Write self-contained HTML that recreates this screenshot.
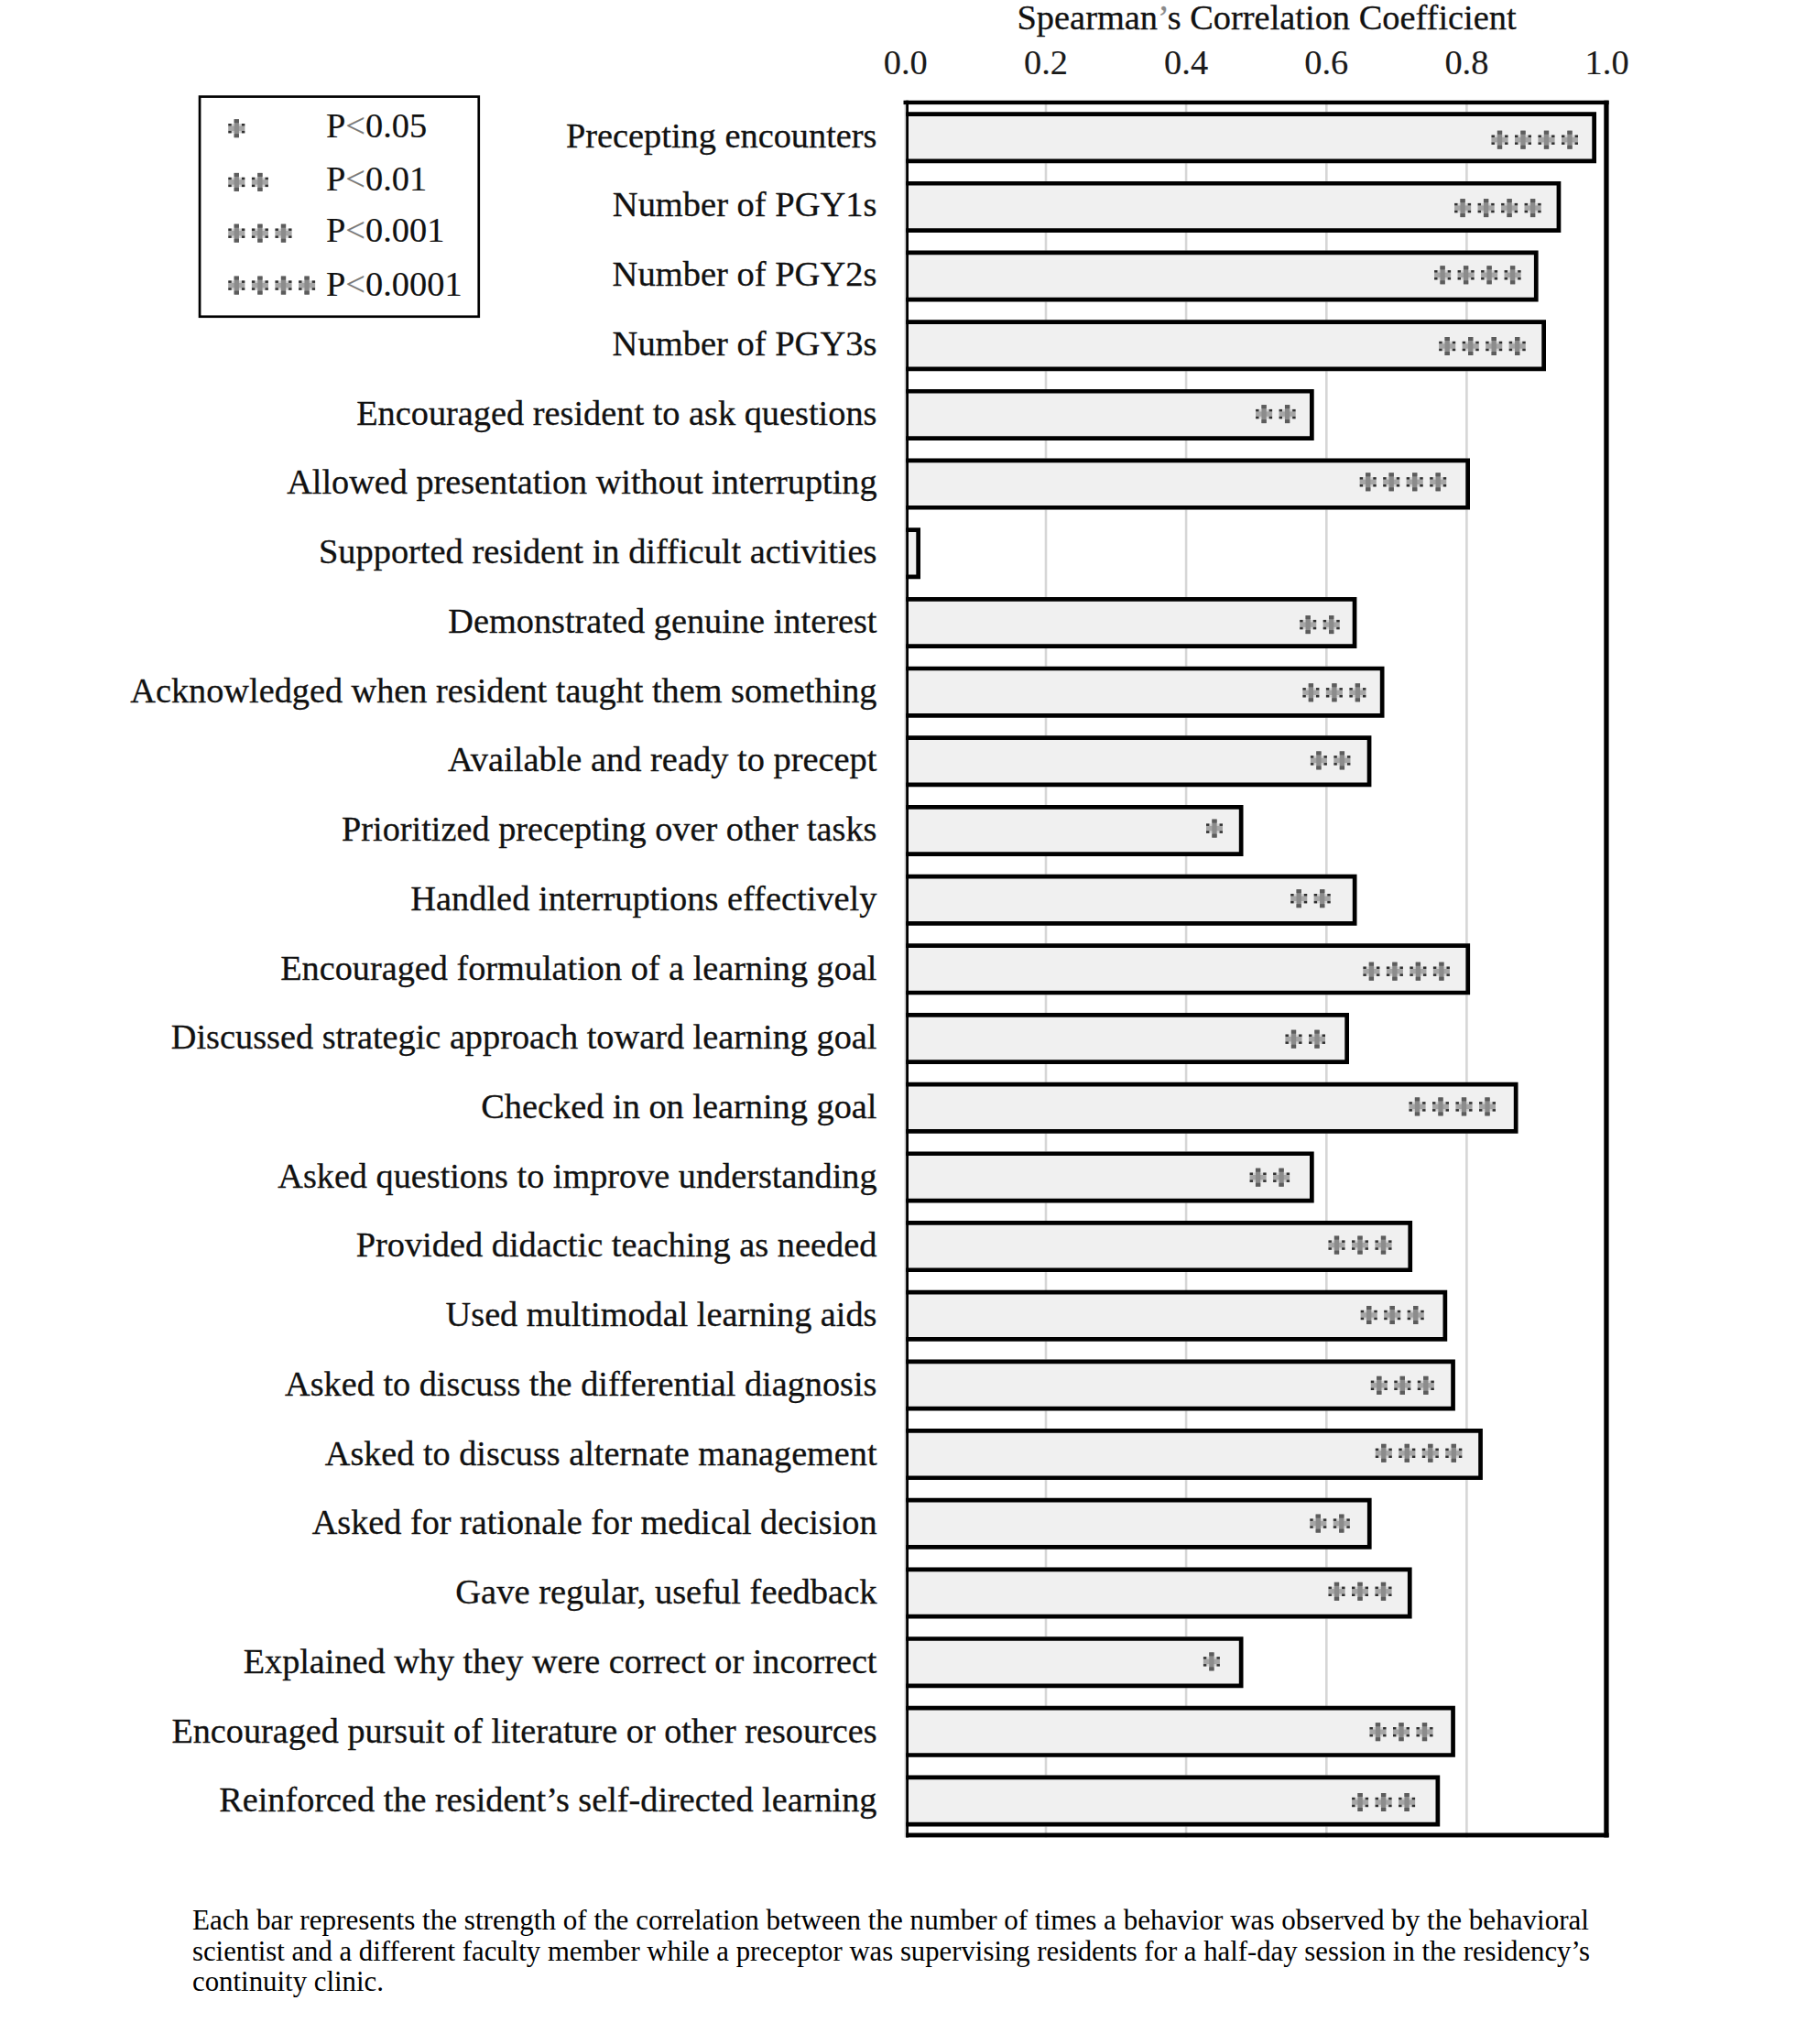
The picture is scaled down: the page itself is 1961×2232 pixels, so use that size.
<!DOCTYPE html>
<html><head><meta charset="utf-8"><style>
html,body{margin:0;padding:0;background:#fff;}
svg{display:block;}
text{font-family:"Liberation Serif",serif;}
</style></head><body>
<svg width="1961" height="2232" viewBox="0 0 1961 2232">
<rect width="1961" height="2232" fill="#fff"/>

<rect x="987.5" y="109.7" width="2.6" height="1896.7" fill="#d6d6d6"/>
<rect x="1140.7" y="109.7" width="2.6" height="1896.7" fill="#d6d6d6"/>
<rect x="1293.8" y="109.7" width="2.6" height="1896.7" fill="#d6d6d6"/>
<rect x="1447.0" y="109.7" width="2.6" height="1896.7" fill="#d6d6d6"/>
<rect x="1600.1" y="109.7" width="2.6" height="1896.7" fill="#d6d6d6"/>
<text x="1110.5" y="32" font-size="38.4" fill="#111" stroke="#111" stroke-width="0.3">Spearman<tspan fill="#8a8a8a" stroke="#8a8a8a">’</tspan>s Correlation Coefficient</text>
<text x="988.8" y="81" font-size="38.4" text-anchor="middle" fill="#1a1a1a" stroke="#1a1a1a" stroke-width="0.15">0.0</text>
<text x="1142.0" y="81" font-size="38.4" text-anchor="middle" fill="#1a1a1a" stroke="#1a1a1a" stroke-width="0.15">0.2</text>
<text x="1295.1" y="81" font-size="38.4" text-anchor="middle" fill="#1a1a1a" stroke="#1a1a1a" stroke-width="0.15">0.4</text>
<text x="1448.3" y="81" font-size="38.4" text-anchor="middle" fill="#1a1a1a" stroke="#1a1a1a" stroke-width="0.15">0.6</text>
<text x="1601.4" y="81" font-size="38.4" text-anchor="middle" fill="#1a1a1a" stroke="#1a1a1a" stroke-width="0.15">0.8</text>
<text x="1754.6" y="81" font-size="38.4" text-anchor="middle" fill="#1a1a1a" stroke="#1a1a1a" stroke-width="0.15">1.0</text>
<rect x="989.20" y="122.20" width="753.80" height="56.00" fill="#f0f0f0"/>
<path d="M989.20 122.20H1743.00V178.20H989.20V173.50H1738.30V126.90H989.20Z" fill="#000"/>
<g transform="translate(1637.5 152.7)"><rect x="-9" y="-5.2" width="18" height="10.4" fill="#d2d2d2"/><rect x="-9" y="-2.7" width="18" height="5.4" fill="#a6a6a6"/><rect x="-9" y="-5.2" width="3.4" height="2.5" fill="#303030"/><rect x="5.6" y="-5.2" width="3.4" height="2.5" fill="#303030"/><rect x="-9" y="2.7" width="3.4" height="2.5" fill="#303030"/><rect x="5.6" y="2.7" width="3.4" height="2.5" fill="#303030"/><rect x="-2.65" y="-10" width="5.3" height="20" fill="#8c8c8c"/><rect x="-2.65" y="-10" width="5.3" height="4" fill="#5c5c5c"/><rect x="-2.65" y="6" width="5.3" height="4" fill="#5c5c5c"/></g>
<g transform="translate(1663.0 152.7)"><rect x="-9" y="-5.2" width="18" height="10.4" fill="#d2d2d2"/><rect x="-9" y="-2.7" width="18" height="5.4" fill="#a6a6a6"/><rect x="-9" y="-5.2" width="3.4" height="2.5" fill="#303030"/><rect x="5.6" y="-5.2" width="3.4" height="2.5" fill="#303030"/><rect x="-9" y="2.7" width="3.4" height="2.5" fill="#303030"/><rect x="5.6" y="2.7" width="3.4" height="2.5" fill="#303030"/><rect x="-2.65" y="-10" width="5.3" height="20" fill="#8c8c8c"/><rect x="-2.65" y="-10" width="5.3" height="4" fill="#5c5c5c"/><rect x="-2.65" y="6" width="5.3" height="4" fill="#5c5c5c"/></g>
<g transform="translate(1688.5 152.7)"><rect x="-9" y="-5.2" width="18" height="10.4" fill="#d2d2d2"/><rect x="-9" y="-2.7" width="18" height="5.4" fill="#a6a6a6"/><rect x="-9" y="-5.2" width="3.4" height="2.5" fill="#303030"/><rect x="5.6" y="-5.2" width="3.4" height="2.5" fill="#303030"/><rect x="-9" y="2.7" width="3.4" height="2.5" fill="#303030"/><rect x="5.6" y="2.7" width="3.4" height="2.5" fill="#303030"/><rect x="-2.65" y="-10" width="5.3" height="20" fill="#8c8c8c"/><rect x="-2.65" y="-10" width="5.3" height="4" fill="#5c5c5c"/><rect x="-2.65" y="6" width="5.3" height="4" fill="#5c5c5c"/></g>
<g transform="translate(1714.0 152.7)"><rect x="-9" y="-5.2" width="18" height="10.4" fill="#d2d2d2"/><rect x="-9" y="-2.7" width="18" height="5.4" fill="#a6a6a6"/><rect x="-9" y="-5.2" width="3.4" height="2.5" fill="#303030"/><rect x="5.6" y="-5.2" width="3.4" height="2.5" fill="#303030"/><rect x="-9" y="2.7" width="3.4" height="2.5" fill="#303030"/><rect x="5.6" y="2.7" width="3.4" height="2.5" fill="#303030"/><rect x="-2.65" y="-10" width="5.3" height="20" fill="#8c8c8c"/><rect x="-2.65" y="-10" width="5.3" height="4" fill="#5c5c5c"/><rect x="-2.65" y="6" width="5.3" height="4" fill="#5c5c5c"/></g>
<text transform="translate(957.5 160.7) scale(0.9985 1)" x="0" y="0" font-size="38.4" text-anchor="end" fill="#111" stroke="#111" stroke-width="0.3">Precepting encounters</text>
<rect x="989.20" y="197.88" width="715.10" height="56.00" fill="#f0f0f0"/>
<path d="M989.20 197.88H1704.30V253.88H989.20V249.18H1699.60V202.58H989.20Z" fill="#000"/>
<g transform="translate(1597.1 227.1)"><rect x="-9" y="-5.2" width="18" height="10.4" fill="#d2d2d2"/><rect x="-9" y="-2.7" width="18" height="5.4" fill="#a6a6a6"/><rect x="-9" y="-5.2" width="3.4" height="2.5" fill="#303030"/><rect x="5.6" y="-5.2" width="3.4" height="2.5" fill="#303030"/><rect x="-9" y="2.7" width="3.4" height="2.5" fill="#303030"/><rect x="5.6" y="2.7" width="3.4" height="2.5" fill="#303030"/><rect x="-2.65" y="-10" width="5.3" height="20" fill="#8c8c8c"/><rect x="-2.65" y="-10" width="5.3" height="4" fill="#5c5c5c"/><rect x="-2.65" y="6" width="5.3" height="4" fill="#5c5c5c"/></g>
<g transform="translate(1622.6 227.1)"><rect x="-9" y="-5.2" width="18" height="10.4" fill="#d2d2d2"/><rect x="-9" y="-2.7" width="18" height="5.4" fill="#a6a6a6"/><rect x="-9" y="-5.2" width="3.4" height="2.5" fill="#303030"/><rect x="5.6" y="-5.2" width="3.4" height="2.5" fill="#303030"/><rect x="-9" y="2.7" width="3.4" height="2.5" fill="#303030"/><rect x="5.6" y="2.7" width="3.4" height="2.5" fill="#303030"/><rect x="-2.65" y="-10" width="5.3" height="20" fill="#8c8c8c"/><rect x="-2.65" y="-10" width="5.3" height="4" fill="#5c5c5c"/><rect x="-2.65" y="6" width="5.3" height="4" fill="#5c5c5c"/></g>
<g transform="translate(1648.1 227.1)"><rect x="-9" y="-5.2" width="18" height="10.4" fill="#d2d2d2"/><rect x="-9" y="-2.7" width="18" height="5.4" fill="#a6a6a6"/><rect x="-9" y="-5.2" width="3.4" height="2.5" fill="#303030"/><rect x="5.6" y="-5.2" width="3.4" height="2.5" fill="#303030"/><rect x="-9" y="2.7" width="3.4" height="2.5" fill="#303030"/><rect x="5.6" y="2.7" width="3.4" height="2.5" fill="#303030"/><rect x="-2.65" y="-10" width="5.3" height="20" fill="#8c8c8c"/><rect x="-2.65" y="-10" width="5.3" height="4" fill="#5c5c5c"/><rect x="-2.65" y="6" width="5.3" height="4" fill="#5c5c5c"/></g>
<g transform="translate(1673.6 227.1)"><rect x="-9" y="-5.2" width="18" height="10.4" fill="#d2d2d2"/><rect x="-9" y="-2.7" width="18" height="5.4" fill="#a6a6a6"/><rect x="-9" y="-5.2" width="3.4" height="2.5" fill="#303030"/><rect x="5.6" y="-5.2" width="3.4" height="2.5" fill="#303030"/><rect x="-9" y="2.7" width="3.4" height="2.5" fill="#303030"/><rect x="5.6" y="2.7" width="3.4" height="2.5" fill="#303030"/><rect x="-2.65" y="-10" width="5.3" height="20" fill="#8c8c8c"/><rect x="-2.65" y="-10" width="5.3" height="4" fill="#5c5c5c"/><rect x="-2.65" y="6" width="5.3" height="4" fill="#5c5c5c"/></g>
<text transform="translate(957.5 236.4) scale(1.0028 1)" x="0" y="0" font-size="38.4" text-anchor="end" fill="#111" stroke="#111" stroke-width="0.3">Number of PGY1s</text>
<rect x="989.20" y="273.56" width="690.40" height="56.00" fill="#f0f0f0"/>
<path d="M989.20 273.56H1679.60V329.56H989.20V324.86H1674.90V278.26H989.20Z" fill="#000"/>
<g transform="translate(1575.1 300.3)"><rect x="-9" y="-5.2" width="18" height="10.4" fill="#d2d2d2"/><rect x="-9" y="-2.7" width="18" height="5.4" fill="#a6a6a6"/><rect x="-9" y="-5.2" width="3.4" height="2.5" fill="#303030"/><rect x="5.6" y="-5.2" width="3.4" height="2.5" fill="#303030"/><rect x="-9" y="2.7" width="3.4" height="2.5" fill="#303030"/><rect x="5.6" y="2.7" width="3.4" height="2.5" fill="#303030"/><rect x="-2.65" y="-10" width="5.3" height="20" fill="#8c8c8c"/><rect x="-2.65" y="-10" width="5.3" height="4" fill="#5c5c5c"/><rect x="-2.65" y="6" width="5.3" height="4" fill="#5c5c5c"/></g>
<g transform="translate(1600.6 300.3)"><rect x="-9" y="-5.2" width="18" height="10.4" fill="#d2d2d2"/><rect x="-9" y="-2.7" width="18" height="5.4" fill="#a6a6a6"/><rect x="-9" y="-5.2" width="3.4" height="2.5" fill="#303030"/><rect x="5.6" y="-5.2" width="3.4" height="2.5" fill="#303030"/><rect x="-9" y="2.7" width="3.4" height="2.5" fill="#303030"/><rect x="5.6" y="2.7" width="3.4" height="2.5" fill="#303030"/><rect x="-2.65" y="-10" width="5.3" height="20" fill="#8c8c8c"/><rect x="-2.65" y="-10" width="5.3" height="4" fill="#5c5c5c"/><rect x="-2.65" y="6" width="5.3" height="4" fill="#5c5c5c"/></g>
<g transform="translate(1626.1 300.3)"><rect x="-9" y="-5.2" width="18" height="10.4" fill="#d2d2d2"/><rect x="-9" y="-2.7" width="18" height="5.4" fill="#a6a6a6"/><rect x="-9" y="-5.2" width="3.4" height="2.5" fill="#303030"/><rect x="5.6" y="-5.2" width="3.4" height="2.5" fill="#303030"/><rect x="-9" y="2.7" width="3.4" height="2.5" fill="#303030"/><rect x="5.6" y="2.7" width="3.4" height="2.5" fill="#303030"/><rect x="-2.65" y="-10" width="5.3" height="20" fill="#8c8c8c"/><rect x="-2.65" y="-10" width="5.3" height="4" fill="#5c5c5c"/><rect x="-2.65" y="6" width="5.3" height="4" fill="#5c5c5c"/></g>
<g transform="translate(1651.6 300.3)"><rect x="-9" y="-5.2" width="18" height="10.4" fill="#d2d2d2"/><rect x="-9" y="-2.7" width="18" height="5.4" fill="#a6a6a6"/><rect x="-9" y="-5.2" width="3.4" height="2.5" fill="#303030"/><rect x="5.6" y="-5.2" width="3.4" height="2.5" fill="#303030"/><rect x="-9" y="2.7" width="3.4" height="2.5" fill="#303030"/><rect x="5.6" y="2.7" width="3.4" height="2.5" fill="#303030"/><rect x="-2.65" y="-10" width="5.3" height="20" fill="#8c8c8c"/><rect x="-2.65" y="-10" width="5.3" height="4" fill="#5c5c5c"/><rect x="-2.65" y="6" width="5.3" height="4" fill="#5c5c5c"/></g>
<text transform="translate(957.5 312.2) scale(1.0035 1)" x="0" y="0" font-size="38.4" text-anchor="end" fill="#111" stroke="#111" stroke-width="0.3">Number of PGY2s</text>
<rect x="989.20" y="349.24" width="698.80" height="56.00" fill="#f0f0f0"/>
<path d="M989.20 349.24H1688.00V405.24H989.20V400.54H1683.30V353.94H989.20Z" fill="#000"/>
<g transform="translate(1580.2 378.0)"><rect x="-9" y="-5.2" width="18" height="10.4" fill="#d2d2d2"/><rect x="-9" y="-2.7" width="18" height="5.4" fill="#a6a6a6"/><rect x="-9" y="-5.2" width="3.4" height="2.5" fill="#303030"/><rect x="5.6" y="-5.2" width="3.4" height="2.5" fill="#303030"/><rect x="-9" y="2.7" width="3.4" height="2.5" fill="#303030"/><rect x="5.6" y="2.7" width="3.4" height="2.5" fill="#303030"/><rect x="-2.65" y="-10" width="5.3" height="20" fill="#8c8c8c"/><rect x="-2.65" y="-10" width="5.3" height="4" fill="#5c5c5c"/><rect x="-2.65" y="6" width="5.3" height="4" fill="#5c5c5c"/></g>
<g transform="translate(1605.7 378.0)"><rect x="-9" y="-5.2" width="18" height="10.4" fill="#d2d2d2"/><rect x="-9" y="-2.7" width="18" height="5.4" fill="#a6a6a6"/><rect x="-9" y="-5.2" width="3.4" height="2.5" fill="#303030"/><rect x="5.6" y="-5.2" width="3.4" height="2.5" fill="#303030"/><rect x="-9" y="2.7" width="3.4" height="2.5" fill="#303030"/><rect x="5.6" y="2.7" width="3.4" height="2.5" fill="#303030"/><rect x="-2.65" y="-10" width="5.3" height="20" fill="#8c8c8c"/><rect x="-2.65" y="-10" width="5.3" height="4" fill="#5c5c5c"/><rect x="-2.65" y="6" width="5.3" height="4" fill="#5c5c5c"/></g>
<g transform="translate(1631.2 378.0)"><rect x="-9" y="-5.2" width="18" height="10.4" fill="#d2d2d2"/><rect x="-9" y="-2.7" width="18" height="5.4" fill="#a6a6a6"/><rect x="-9" y="-5.2" width="3.4" height="2.5" fill="#303030"/><rect x="5.6" y="-5.2" width="3.4" height="2.5" fill="#303030"/><rect x="-9" y="2.7" width="3.4" height="2.5" fill="#303030"/><rect x="5.6" y="2.7" width="3.4" height="2.5" fill="#303030"/><rect x="-2.65" y="-10" width="5.3" height="20" fill="#8c8c8c"/><rect x="-2.65" y="-10" width="5.3" height="4" fill="#5c5c5c"/><rect x="-2.65" y="6" width="5.3" height="4" fill="#5c5c5c"/></g>
<g transform="translate(1656.7 378.0)"><rect x="-9" y="-5.2" width="18" height="10.4" fill="#d2d2d2"/><rect x="-9" y="-2.7" width="18" height="5.4" fill="#a6a6a6"/><rect x="-9" y="-5.2" width="3.4" height="2.5" fill="#303030"/><rect x="5.6" y="-5.2" width="3.4" height="2.5" fill="#303030"/><rect x="-9" y="2.7" width="3.4" height="2.5" fill="#303030"/><rect x="5.6" y="2.7" width="3.4" height="2.5" fill="#303030"/><rect x="-2.65" y="-10" width="5.3" height="20" fill="#8c8c8c"/><rect x="-2.65" y="-10" width="5.3" height="4" fill="#5c5c5c"/><rect x="-2.65" y="6" width="5.3" height="4" fill="#5c5c5c"/></g>
<text transform="translate(957.5 387.9) scale(1.0035 1)" x="0" y="0" font-size="38.4" text-anchor="end" fill="#111" stroke="#111" stroke-width="0.3">Number of PGY3s</text>
<rect x="989.20" y="424.92" width="445.50" height="56.00" fill="#f0f0f0"/>
<path d="M989.20 424.92H1434.70V480.92H989.20V476.22H1430.00V429.62H989.20Z" fill="#000"/>
<g transform="translate(1380.1 452.1)"><rect x="-9" y="-5.2" width="18" height="10.4" fill="#d2d2d2"/><rect x="-9" y="-2.7" width="18" height="5.4" fill="#a6a6a6"/><rect x="-9" y="-5.2" width="3.4" height="2.5" fill="#303030"/><rect x="5.6" y="-5.2" width="3.4" height="2.5" fill="#303030"/><rect x="-9" y="2.7" width="3.4" height="2.5" fill="#303030"/><rect x="5.6" y="2.7" width="3.4" height="2.5" fill="#303030"/><rect x="-2.65" y="-10" width="5.3" height="20" fill="#8c8c8c"/><rect x="-2.65" y="-10" width="5.3" height="4" fill="#5c5c5c"/><rect x="-2.65" y="6" width="5.3" height="4" fill="#5c5c5c"/></g>
<g transform="translate(1405.6 452.1)"><rect x="-9" y="-5.2" width="18" height="10.4" fill="#d2d2d2"/><rect x="-9" y="-2.7" width="18" height="5.4" fill="#a6a6a6"/><rect x="-9" y="-5.2" width="3.4" height="2.5" fill="#303030"/><rect x="5.6" y="-5.2" width="3.4" height="2.5" fill="#303030"/><rect x="-9" y="2.7" width="3.4" height="2.5" fill="#303030"/><rect x="5.6" y="2.7" width="3.4" height="2.5" fill="#303030"/><rect x="-2.65" y="-10" width="5.3" height="20" fill="#8c8c8c"/><rect x="-2.65" y="-10" width="5.3" height="4" fill="#5c5c5c"/><rect x="-2.65" y="6" width="5.3" height="4" fill="#5c5c5c"/></g>
<text transform="translate(957.5 463.6) scale(0.9982 1)" x="0" y="0" font-size="38.4" text-anchor="end" fill="#111" stroke="#111" stroke-width="0.3">Encouraged resident to ask questions</text>
<rect x="989.20" y="500.60" width="615.80" height="56.00" fill="#f0f0f0"/>
<path d="M989.20 500.60H1605.00V556.60H989.20V551.90H1600.30V505.30H989.20Z" fill="#000"/>
<g transform="translate(1493.7 526.3)"><rect x="-9" y="-5.2" width="18" height="10.4" fill="#d2d2d2"/><rect x="-9" y="-2.7" width="18" height="5.4" fill="#a6a6a6"/><rect x="-9" y="-5.2" width="3.4" height="2.5" fill="#303030"/><rect x="5.6" y="-5.2" width="3.4" height="2.5" fill="#303030"/><rect x="-9" y="2.7" width="3.4" height="2.5" fill="#303030"/><rect x="5.6" y="2.7" width="3.4" height="2.5" fill="#303030"/><rect x="-2.65" y="-10" width="5.3" height="20" fill="#8c8c8c"/><rect x="-2.65" y="-10" width="5.3" height="4" fill="#5c5c5c"/><rect x="-2.65" y="6" width="5.3" height="4" fill="#5c5c5c"/></g>
<g transform="translate(1519.2 526.3)"><rect x="-9" y="-5.2" width="18" height="10.4" fill="#d2d2d2"/><rect x="-9" y="-2.7" width="18" height="5.4" fill="#a6a6a6"/><rect x="-9" y="-5.2" width="3.4" height="2.5" fill="#303030"/><rect x="5.6" y="-5.2" width="3.4" height="2.5" fill="#303030"/><rect x="-9" y="2.7" width="3.4" height="2.5" fill="#303030"/><rect x="5.6" y="2.7" width="3.4" height="2.5" fill="#303030"/><rect x="-2.65" y="-10" width="5.3" height="20" fill="#8c8c8c"/><rect x="-2.65" y="-10" width="5.3" height="4" fill="#5c5c5c"/><rect x="-2.65" y="6" width="5.3" height="4" fill="#5c5c5c"/></g>
<g transform="translate(1544.7 526.3)"><rect x="-9" y="-5.2" width="18" height="10.4" fill="#d2d2d2"/><rect x="-9" y="-2.7" width="18" height="5.4" fill="#a6a6a6"/><rect x="-9" y="-5.2" width="3.4" height="2.5" fill="#303030"/><rect x="5.6" y="-5.2" width="3.4" height="2.5" fill="#303030"/><rect x="-9" y="2.7" width="3.4" height="2.5" fill="#303030"/><rect x="5.6" y="2.7" width="3.4" height="2.5" fill="#303030"/><rect x="-2.65" y="-10" width="5.3" height="20" fill="#8c8c8c"/><rect x="-2.65" y="-10" width="5.3" height="4" fill="#5c5c5c"/><rect x="-2.65" y="6" width="5.3" height="4" fill="#5c5c5c"/></g>
<g transform="translate(1570.2 526.3)"><rect x="-9" y="-5.2" width="18" height="10.4" fill="#d2d2d2"/><rect x="-9" y="-2.7" width="18" height="5.4" fill="#a6a6a6"/><rect x="-9" y="-5.2" width="3.4" height="2.5" fill="#303030"/><rect x="5.6" y="-5.2" width="3.4" height="2.5" fill="#303030"/><rect x="-9" y="2.7" width="3.4" height="2.5" fill="#303030"/><rect x="5.6" y="2.7" width="3.4" height="2.5" fill="#303030"/><rect x="-2.65" y="-10" width="5.3" height="20" fill="#8c8c8c"/><rect x="-2.65" y="-10" width="5.3" height="4" fill="#5c5c5c"/><rect x="-2.65" y="6" width="5.3" height="4" fill="#5c5c5c"/></g>
<text transform="translate(957.5 539.4) scale(0.9958 1)" x="0" y="0" font-size="38.4" text-anchor="end" fill="#111" stroke="#111" stroke-width="0.3">Allowed presentation without interrupting</text>
<rect x="989.20" y="576.28" width="15.80" height="56.00" fill="#f0f0f0"/>
<path d="M989.20 576.28H1005.00V632.28H989.20V627.58H1000.30V580.98H989.20Z" fill="#000"/>
<text transform="translate(957.5 615.1) scale(1.0007 1)" x="0" y="0" font-size="38.4" text-anchor="end" fill="#111" stroke="#111" stroke-width="0.3">Supported resident in difficult activities</text>
<rect x="989.20" y="651.96" width="492.20" height="56.00" fill="#f0f0f0"/>
<path d="M989.20 651.96H1481.40V707.96H989.20V703.26H1476.70V656.66H989.20Z" fill="#000"/>
<g transform="translate(1428.2 682.1)"><rect x="-9" y="-5.2" width="18" height="10.4" fill="#d2d2d2"/><rect x="-9" y="-2.7" width="18" height="5.4" fill="#a6a6a6"/><rect x="-9" y="-5.2" width="3.4" height="2.5" fill="#303030"/><rect x="5.6" y="-5.2" width="3.4" height="2.5" fill="#303030"/><rect x="-9" y="2.7" width="3.4" height="2.5" fill="#303030"/><rect x="5.6" y="2.7" width="3.4" height="2.5" fill="#303030"/><rect x="-2.65" y="-10" width="5.3" height="20" fill="#8c8c8c"/><rect x="-2.65" y="-10" width="5.3" height="4" fill="#5c5c5c"/><rect x="-2.65" y="6" width="5.3" height="4" fill="#5c5c5c"/></g>
<g transform="translate(1453.7 682.1)"><rect x="-9" y="-5.2" width="18" height="10.4" fill="#d2d2d2"/><rect x="-9" y="-2.7" width="18" height="5.4" fill="#a6a6a6"/><rect x="-9" y="-5.2" width="3.4" height="2.5" fill="#303030"/><rect x="5.6" y="-5.2" width="3.4" height="2.5" fill="#303030"/><rect x="-9" y="2.7" width="3.4" height="2.5" fill="#303030"/><rect x="5.6" y="2.7" width="3.4" height="2.5" fill="#303030"/><rect x="-2.65" y="-10" width="5.3" height="20" fill="#8c8c8c"/><rect x="-2.65" y="-10" width="5.3" height="4" fill="#5c5c5c"/><rect x="-2.65" y="6" width="5.3" height="4" fill="#5c5c5c"/></g>
<text transform="translate(957.5 690.8) scale(0.9983 1)" x="0" y="0" font-size="38.4" text-anchor="end" fill="#111" stroke="#111" stroke-width="0.3">Demonstrated genuine interest</text>
<rect x="989.20" y="727.64" width="522.30" height="56.00" fill="#f0f0f0"/>
<path d="M989.20 727.64H1511.50V783.64H989.20V778.94H1506.80V732.34H989.20Z" fill="#000"/>
<g transform="translate(1431.4 756.3)"><rect x="-9" y="-5.2" width="18" height="10.4" fill="#d2d2d2"/><rect x="-9" y="-2.7" width="18" height="5.4" fill="#a6a6a6"/><rect x="-9" y="-5.2" width="3.4" height="2.5" fill="#303030"/><rect x="5.6" y="-5.2" width="3.4" height="2.5" fill="#303030"/><rect x="-9" y="2.7" width="3.4" height="2.5" fill="#303030"/><rect x="5.6" y="2.7" width="3.4" height="2.5" fill="#303030"/><rect x="-2.65" y="-10" width="5.3" height="20" fill="#8c8c8c"/><rect x="-2.65" y="-10" width="5.3" height="4" fill="#5c5c5c"/><rect x="-2.65" y="6" width="5.3" height="4" fill="#5c5c5c"/></g>
<g transform="translate(1456.9 756.3)"><rect x="-9" y="-5.2" width="18" height="10.4" fill="#d2d2d2"/><rect x="-9" y="-2.7" width="18" height="5.4" fill="#a6a6a6"/><rect x="-9" y="-5.2" width="3.4" height="2.5" fill="#303030"/><rect x="5.6" y="-5.2" width="3.4" height="2.5" fill="#303030"/><rect x="-9" y="2.7" width="3.4" height="2.5" fill="#303030"/><rect x="5.6" y="2.7" width="3.4" height="2.5" fill="#303030"/><rect x="-2.65" y="-10" width="5.3" height="20" fill="#8c8c8c"/><rect x="-2.65" y="-10" width="5.3" height="4" fill="#5c5c5c"/><rect x="-2.65" y="6" width="5.3" height="4" fill="#5c5c5c"/></g>
<g transform="translate(1482.4 756.3)"><rect x="-9" y="-5.2" width="18" height="10.4" fill="#d2d2d2"/><rect x="-9" y="-2.7" width="18" height="5.4" fill="#a6a6a6"/><rect x="-9" y="-5.2" width="3.4" height="2.5" fill="#303030"/><rect x="5.6" y="-5.2" width="3.4" height="2.5" fill="#303030"/><rect x="-9" y="2.7" width="3.4" height="2.5" fill="#303030"/><rect x="5.6" y="2.7" width="3.4" height="2.5" fill="#303030"/><rect x="-2.65" y="-10" width="5.3" height="20" fill="#8c8c8c"/><rect x="-2.65" y="-10" width="5.3" height="4" fill="#5c5c5c"/><rect x="-2.65" y="6" width="5.3" height="4" fill="#5c5c5c"/></g>
<text transform="translate(957.5 766.5) scale(0.9969 1)" x="0" y="0" font-size="38.4" text-anchor="end" fill="#111" stroke="#111" stroke-width="0.3">Acknowledged when resident taught them something</text>
<rect x="989.20" y="803.32" width="508.20" height="56.00" fill="#f0f0f0"/>
<path d="M989.20 803.32H1497.40V859.32H989.20V854.62H1492.70V808.02H989.20Z" fill="#000"/>
<g transform="translate(1439.9 830.4)"><rect x="-9" y="-5.2" width="18" height="10.4" fill="#d2d2d2"/><rect x="-9" y="-2.7" width="18" height="5.4" fill="#a6a6a6"/><rect x="-9" y="-5.2" width="3.4" height="2.5" fill="#303030"/><rect x="5.6" y="-5.2" width="3.4" height="2.5" fill="#303030"/><rect x="-9" y="2.7" width="3.4" height="2.5" fill="#303030"/><rect x="5.6" y="2.7" width="3.4" height="2.5" fill="#303030"/><rect x="-2.65" y="-10" width="5.3" height="20" fill="#8c8c8c"/><rect x="-2.65" y="-10" width="5.3" height="4" fill="#5c5c5c"/><rect x="-2.65" y="6" width="5.3" height="4" fill="#5c5c5c"/></g>
<g transform="translate(1465.4 830.4)"><rect x="-9" y="-5.2" width="18" height="10.4" fill="#d2d2d2"/><rect x="-9" y="-2.7" width="18" height="5.4" fill="#a6a6a6"/><rect x="-9" y="-5.2" width="3.4" height="2.5" fill="#303030"/><rect x="5.6" y="-5.2" width="3.4" height="2.5" fill="#303030"/><rect x="-9" y="2.7" width="3.4" height="2.5" fill="#303030"/><rect x="5.6" y="2.7" width="3.4" height="2.5" fill="#303030"/><rect x="-2.65" y="-10" width="5.3" height="20" fill="#8c8c8c"/><rect x="-2.65" y="-10" width="5.3" height="4" fill="#5c5c5c"/><rect x="-2.65" y="6" width="5.3" height="4" fill="#5c5c5c"/></g>
<text transform="translate(957.5 842.3) scale(1.0006 1)" x="0" y="0" font-size="38.4" text-anchor="end" fill="#111" stroke="#111" stroke-width="0.3">Available and ready to precept</text>
<rect x="989.20" y="879.00" width="368.30" height="56.00" fill="#f0f0f0"/>
<path d="M989.20 879.00H1357.50V935.00H989.20V930.30H1352.80V883.70H989.20Z" fill="#000"/>
<g transform="translate(1326.0 904.6)"><rect x="-9" y="-5.2" width="18" height="10.4" fill="#d2d2d2"/><rect x="-9" y="-2.7" width="18" height="5.4" fill="#a6a6a6"/><rect x="-9" y="-5.2" width="3.4" height="2.5" fill="#303030"/><rect x="5.6" y="-5.2" width="3.4" height="2.5" fill="#303030"/><rect x="-9" y="2.7" width="3.4" height="2.5" fill="#303030"/><rect x="5.6" y="2.7" width="3.4" height="2.5" fill="#303030"/><rect x="-2.65" y="-10" width="5.3" height="20" fill="#8c8c8c"/><rect x="-2.65" y="-10" width="5.3" height="4" fill="#5c5c5c"/><rect x="-2.65" y="6" width="5.3" height="4" fill="#5c5c5c"/></g>
<text transform="translate(957.5 918.0) scale(0.9967 1)" x="0" y="0" font-size="38.4" text-anchor="end" fill="#111" stroke="#111" stroke-width="0.3">Prioritized precepting over other tasks</text>
<rect x="989.20" y="954.68" width="492.30" height="56.00" fill="#f0f0f0"/>
<path d="M989.20 954.68H1481.50V1010.68H989.20V1005.98H1476.80V959.38H989.20Z" fill="#000"/>
<g transform="translate(1418.2 981.2)"><rect x="-9" y="-5.2" width="18" height="10.4" fill="#d2d2d2"/><rect x="-9" y="-2.7" width="18" height="5.4" fill="#a6a6a6"/><rect x="-9" y="-5.2" width="3.4" height="2.5" fill="#303030"/><rect x="5.6" y="-5.2" width="3.4" height="2.5" fill="#303030"/><rect x="-9" y="2.7" width="3.4" height="2.5" fill="#303030"/><rect x="5.6" y="2.7" width="3.4" height="2.5" fill="#303030"/><rect x="-2.65" y="-10" width="5.3" height="20" fill="#8c8c8c"/><rect x="-2.65" y="-10" width="5.3" height="4" fill="#5c5c5c"/><rect x="-2.65" y="6" width="5.3" height="4" fill="#5c5c5c"/></g>
<g transform="translate(1443.7 981.2)"><rect x="-9" y="-5.2" width="18" height="10.4" fill="#d2d2d2"/><rect x="-9" y="-2.7" width="18" height="5.4" fill="#a6a6a6"/><rect x="-9" y="-5.2" width="3.4" height="2.5" fill="#303030"/><rect x="5.6" y="-5.2" width="3.4" height="2.5" fill="#303030"/><rect x="-9" y="2.7" width="3.4" height="2.5" fill="#303030"/><rect x="5.6" y="2.7" width="3.4" height="2.5" fill="#303030"/><rect x="-2.65" y="-10" width="5.3" height="20" fill="#8c8c8c"/><rect x="-2.65" y="-10" width="5.3" height="4" fill="#5c5c5c"/><rect x="-2.65" y="6" width="5.3" height="4" fill="#5c5c5c"/></g>
<text transform="translate(957.5 993.7) scale(1.0008 1)" x="0" y="0" font-size="38.4" text-anchor="end" fill="#111" stroke="#111" stroke-width="0.3">Handled interruptions effectively</text>
<rect x="989.20" y="1030.36" width="615.90" height="56.00" fill="#f0f0f0"/>
<path d="M989.20 1030.36H1605.10V1086.36H989.20V1081.66H1600.40V1035.06H989.20Z" fill="#000"/>
<g transform="translate(1497.4 1060.7)"><rect x="-9" y="-5.2" width="18" height="10.4" fill="#d2d2d2"/><rect x="-9" y="-2.7" width="18" height="5.4" fill="#a6a6a6"/><rect x="-9" y="-5.2" width="3.4" height="2.5" fill="#303030"/><rect x="5.6" y="-5.2" width="3.4" height="2.5" fill="#303030"/><rect x="-9" y="2.7" width="3.4" height="2.5" fill="#303030"/><rect x="5.6" y="2.7" width="3.4" height="2.5" fill="#303030"/><rect x="-2.65" y="-10" width="5.3" height="20" fill="#8c8c8c"/><rect x="-2.65" y="-10" width="5.3" height="4" fill="#5c5c5c"/><rect x="-2.65" y="6" width="5.3" height="4" fill="#5c5c5c"/></g>
<g transform="translate(1522.9 1060.7)"><rect x="-9" y="-5.2" width="18" height="10.4" fill="#d2d2d2"/><rect x="-9" y="-2.7" width="18" height="5.4" fill="#a6a6a6"/><rect x="-9" y="-5.2" width="3.4" height="2.5" fill="#303030"/><rect x="5.6" y="-5.2" width="3.4" height="2.5" fill="#303030"/><rect x="-9" y="2.7" width="3.4" height="2.5" fill="#303030"/><rect x="5.6" y="2.7" width="3.4" height="2.5" fill="#303030"/><rect x="-2.65" y="-10" width="5.3" height="20" fill="#8c8c8c"/><rect x="-2.65" y="-10" width="5.3" height="4" fill="#5c5c5c"/><rect x="-2.65" y="6" width="5.3" height="4" fill="#5c5c5c"/></g>
<g transform="translate(1548.4 1060.7)"><rect x="-9" y="-5.2" width="18" height="10.4" fill="#d2d2d2"/><rect x="-9" y="-2.7" width="18" height="5.4" fill="#a6a6a6"/><rect x="-9" y="-5.2" width="3.4" height="2.5" fill="#303030"/><rect x="5.6" y="-5.2" width="3.4" height="2.5" fill="#303030"/><rect x="-9" y="2.7" width="3.4" height="2.5" fill="#303030"/><rect x="5.6" y="2.7" width="3.4" height="2.5" fill="#303030"/><rect x="-2.65" y="-10" width="5.3" height="20" fill="#8c8c8c"/><rect x="-2.65" y="-10" width="5.3" height="4" fill="#5c5c5c"/><rect x="-2.65" y="6" width="5.3" height="4" fill="#5c5c5c"/></g>
<g transform="translate(1573.9 1060.7)"><rect x="-9" y="-5.2" width="18" height="10.4" fill="#d2d2d2"/><rect x="-9" y="-2.7" width="18" height="5.4" fill="#a6a6a6"/><rect x="-9" y="-5.2" width="3.4" height="2.5" fill="#303030"/><rect x="5.6" y="-5.2" width="3.4" height="2.5" fill="#303030"/><rect x="-9" y="2.7" width="3.4" height="2.5" fill="#303030"/><rect x="5.6" y="2.7" width="3.4" height="2.5" fill="#303030"/><rect x="-2.65" y="-10" width="5.3" height="20" fill="#8c8c8c"/><rect x="-2.65" y="-10" width="5.3" height="4" fill="#5c5c5c"/><rect x="-2.65" y="6" width="5.3" height="4" fill="#5c5c5c"/></g>
<text transform="translate(957.5 1069.5) scale(0.9968 1)" x="0" y="0" font-size="38.4" text-anchor="end" fill="#111" stroke="#111" stroke-width="0.3">Encouraged formulation of a learning goal</text>
<rect x="989.20" y="1106.04" width="483.80" height="56.00" fill="#f0f0f0"/>
<path d="M989.20 1106.04H1473.00V1162.04H989.20V1157.34H1468.30V1110.74H989.20Z" fill="#000"/>
<g transform="translate(1412.5 1134.7)"><rect x="-9" y="-5.2" width="18" height="10.4" fill="#d2d2d2"/><rect x="-9" y="-2.7" width="18" height="5.4" fill="#a6a6a6"/><rect x="-9" y="-5.2" width="3.4" height="2.5" fill="#303030"/><rect x="5.6" y="-5.2" width="3.4" height="2.5" fill="#303030"/><rect x="-9" y="2.7" width="3.4" height="2.5" fill="#303030"/><rect x="5.6" y="2.7" width="3.4" height="2.5" fill="#303030"/><rect x="-2.65" y="-10" width="5.3" height="20" fill="#8c8c8c"/><rect x="-2.65" y="-10" width="5.3" height="4" fill="#5c5c5c"/><rect x="-2.65" y="6" width="5.3" height="4" fill="#5c5c5c"/></g>
<g transform="translate(1438.0 1134.7)"><rect x="-9" y="-5.2" width="18" height="10.4" fill="#d2d2d2"/><rect x="-9" y="-2.7" width="18" height="5.4" fill="#a6a6a6"/><rect x="-9" y="-5.2" width="3.4" height="2.5" fill="#303030"/><rect x="5.6" y="-5.2" width="3.4" height="2.5" fill="#303030"/><rect x="-9" y="2.7" width="3.4" height="2.5" fill="#303030"/><rect x="5.6" y="2.7" width="3.4" height="2.5" fill="#303030"/><rect x="-2.65" y="-10" width="5.3" height="20" fill="#8c8c8c"/><rect x="-2.65" y="-10" width="5.3" height="4" fill="#5c5c5c"/><rect x="-2.65" y="6" width="5.3" height="4" fill="#5c5c5c"/></g>
<text transform="translate(957.5 1145.2) scale(0.9975 1)" x="0" y="0" font-size="38.4" text-anchor="end" fill="#111" stroke="#111" stroke-width="0.3">Discussed strategic approach toward learning goal</text>
<rect x="989.20" y="1181.72" width="668.30" height="56.00" fill="#f0f0f0"/>
<path d="M989.20 1181.72H1657.50V1237.72H989.20V1233.02H1652.80V1186.42H989.20Z" fill="#000"/>
<g transform="translate(1547.5 1208.4)"><rect x="-9" y="-5.2" width="18" height="10.4" fill="#d2d2d2"/><rect x="-9" y="-2.7" width="18" height="5.4" fill="#a6a6a6"/><rect x="-9" y="-5.2" width="3.4" height="2.5" fill="#303030"/><rect x="5.6" y="-5.2" width="3.4" height="2.5" fill="#303030"/><rect x="-9" y="2.7" width="3.4" height="2.5" fill="#303030"/><rect x="5.6" y="2.7" width="3.4" height="2.5" fill="#303030"/><rect x="-2.65" y="-10" width="5.3" height="20" fill="#8c8c8c"/><rect x="-2.65" y="-10" width="5.3" height="4" fill="#5c5c5c"/><rect x="-2.65" y="6" width="5.3" height="4" fill="#5c5c5c"/></g>
<g transform="translate(1573.0 1208.4)"><rect x="-9" y="-5.2" width="18" height="10.4" fill="#d2d2d2"/><rect x="-9" y="-2.7" width="18" height="5.4" fill="#a6a6a6"/><rect x="-9" y="-5.2" width="3.4" height="2.5" fill="#303030"/><rect x="5.6" y="-5.2" width="3.4" height="2.5" fill="#303030"/><rect x="-9" y="2.7" width="3.4" height="2.5" fill="#303030"/><rect x="5.6" y="2.7" width="3.4" height="2.5" fill="#303030"/><rect x="-2.65" y="-10" width="5.3" height="20" fill="#8c8c8c"/><rect x="-2.65" y="-10" width="5.3" height="4" fill="#5c5c5c"/><rect x="-2.65" y="6" width="5.3" height="4" fill="#5c5c5c"/></g>
<g transform="translate(1598.5 1208.4)"><rect x="-9" y="-5.2" width="18" height="10.4" fill="#d2d2d2"/><rect x="-9" y="-2.7" width="18" height="5.4" fill="#a6a6a6"/><rect x="-9" y="-5.2" width="3.4" height="2.5" fill="#303030"/><rect x="5.6" y="-5.2" width="3.4" height="2.5" fill="#303030"/><rect x="-9" y="2.7" width="3.4" height="2.5" fill="#303030"/><rect x="5.6" y="2.7" width="3.4" height="2.5" fill="#303030"/><rect x="-2.65" y="-10" width="5.3" height="20" fill="#8c8c8c"/><rect x="-2.65" y="-10" width="5.3" height="4" fill="#5c5c5c"/><rect x="-2.65" y="6" width="5.3" height="4" fill="#5c5c5c"/></g>
<g transform="translate(1624.0 1208.4)"><rect x="-9" y="-5.2" width="18" height="10.4" fill="#d2d2d2"/><rect x="-9" y="-2.7" width="18" height="5.4" fill="#a6a6a6"/><rect x="-9" y="-5.2" width="3.4" height="2.5" fill="#303030"/><rect x="5.6" y="-5.2" width="3.4" height="2.5" fill="#303030"/><rect x="-9" y="2.7" width="3.4" height="2.5" fill="#303030"/><rect x="5.6" y="2.7" width="3.4" height="2.5" fill="#303030"/><rect x="-2.65" y="-10" width="5.3" height="20" fill="#8c8c8c"/><rect x="-2.65" y="-10" width="5.3" height="4" fill="#5c5c5c"/><rect x="-2.65" y="6" width="5.3" height="4" fill="#5c5c5c"/></g>
<text transform="translate(957.5 1220.9) scale(0.9988 1)" x="0" y="0" font-size="38.4" text-anchor="end" fill="#111" stroke="#111" stroke-width="0.3">Checked in on learning goal</text>
<rect x="989.20" y="1257.40" width="445.50" height="56.00" fill="#f0f0f0"/>
<path d="M989.20 1257.40H1434.70V1313.40H989.20V1308.70H1430.00V1262.10H989.20Z" fill="#000"/>
<g transform="translate(1373.6 1285.7)"><rect x="-9" y="-5.2" width="18" height="10.4" fill="#d2d2d2"/><rect x="-9" y="-2.7" width="18" height="5.4" fill="#a6a6a6"/><rect x="-9" y="-5.2" width="3.4" height="2.5" fill="#303030"/><rect x="5.6" y="-5.2" width="3.4" height="2.5" fill="#303030"/><rect x="-9" y="2.7" width="3.4" height="2.5" fill="#303030"/><rect x="5.6" y="2.7" width="3.4" height="2.5" fill="#303030"/><rect x="-2.65" y="-10" width="5.3" height="20" fill="#8c8c8c"/><rect x="-2.65" y="-10" width="5.3" height="4" fill="#5c5c5c"/><rect x="-2.65" y="6" width="5.3" height="4" fill="#5c5c5c"/></g>
<g transform="translate(1399.1 1285.7)"><rect x="-9" y="-5.2" width="18" height="10.4" fill="#d2d2d2"/><rect x="-9" y="-2.7" width="18" height="5.4" fill="#a6a6a6"/><rect x="-9" y="-5.2" width="3.4" height="2.5" fill="#303030"/><rect x="5.6" y="-5.2" width="3.4" height="2.5" fill="#303030"/><rect x="-9" y="2.7" width="3.4" height="2.5" fill="#303030"/><rect x="5.6" y="2.7" width="3.4" height="2.5" fill="#303030"/><rect x="-2.65" y="-10" width="5.3" height="20" fill="#8c8c8c"/><rect x="-2.65" y="-10" width="5.3" height="4" fill="#5c5c5c"/><rect x="-2.65" y="6" width="5.3" height="4" fill="#5c5c5c"/></g>
<text transform="translate(957.5 1296.7) scale(0.9962 1)" x="0" y="0" font-size="38.4" text-anchor="end" fill="#111" stroke="#111" stroke-width="0.3">Asked questions to improve understanding</text>
<rect x="989.20" y="1333.08" width="552.90" height="56.00" fill="#f0f0f0"/>
<path d="M989.20 1333.08H1542.10V1389.08H989.20V1384.38H1537.40V1337.78H989.20Z" fill="#000"/>
<g transform="translate(1459.5 1359.6)"><rect x="-9" y="-5.2" width="18" height="10.4" fill="#d2d2d2"/><rect x="-9" y="-2.7" width="18" height="5.4" fill="#a6a6a6"/><rect x="-9" y="-5.2" width="3.4" height="2.5" fill="#303030"/><rect x="5.6" y="-5.2" width="3.4" height="2.5" fill="#303030"/><rect x="-9" y="2.7" width="3.4" height="2.5" fill="#303030"/><rect x="5.6" y="2.7" width="3.4" height="2.5" fill="#303030"/><rect x="-2.65" y="-10" width="5.3" height="20" fill="#8c8c8c"/><rect x="-2.65" y="-10" width="5.3" height="4" fill="#5c5c5c"/><rect x="-2.65" y="6" width="5.3" height="4" fill="#5c5c5c"/></g>
<g transform="translate(1485.0 1359.6)"><rect x="-9" y="-5.2" width="18" height="10.4" fill="#d2d2d2"/><rect x="-9" y="-2.7" width="18" height="5.4" fill="#a6a6a6"/><rect x="-9" y="-5.2" width="3.4" height="2.5" fill="#303030"/><rect x="5.6" y="-5.2" width="3.4" height="2.5" fill="#303030"/><rect x="-9" y="2.7" width="3.4" height="2.5" fill="#303030"/><rect x="5.6" y="2.7" width="3.4" height="2.5" fill="#303030"/><rect x="-2.65" y="-10" width="5.3" height="20" fill="#8c8c8c"/><rect x="-2.65" y="-10" width="5.3" height="4" fill="#5c5c5c"/><rect x="-2.65" y="6" width="5.3" height="4" fill="#5c5c5c"/></g>
<g transform="translate(1510.5 1359.6)"><rect x="-9" y="-5.2" width="18" height="10.4" fill="#d2d2d2"/><rect x="-9" y="-2.7" width="18" height="5.4" fill="#a6a6a6"/><rect x="-9" y="-5.2" width="3.4" height="2.5" fill="#303030"/><rect x="5.6" y="-5.2" width="3.4" height="2.5" fill="#303030"/><rect x="-9" y="2.7" width="3.4" height="2.5" fill="#303030"/><rect x="5.6" y="2.7" width="3.4" height="2.5" fill="#303030"/><rect x="-2.65" y="-10" width="5.3" height="20" fill="#8c8c8c"/><rect x="-2.65" y="-10" width="5.3" height="4" fill="#5c5c5c"/><rect x="-2.65" y="6" width="5.3" height="4" fill="#5c5c5c"/></g>
<text transform="translate(957.5 1372.4) scale(0.9995 1)" x="0" y="0" font-size="38.4" text-anchor="end" fill="#111" stroke="#111" stroke-width="0.3">Provided didactic teaching as needed</text>
<rect x="989.20" y="1408.76" width="591.00" height="56.00" fill="#f0f0f0"/>
<path d="M989.20 1408.76H1580.20V1464.76H989.20V1460.06H1575.50V1413.46H989.20Z" fill="#000"/>
<g transform="translate(1494.7 1436.0)"><rect x="-9" y="-5.2" width="18" height="10.4" fill="#d2d2d2"/><rect x="-9" y="-2.7" width="18" height="5.4" fill="#a6a6a6"/><rect x="-9" y="-5.2" width="3.4" height="2.5" fill="#303030"/><rect x="5.6" y="-5.2" width="3.4" height="2.5" fill="#303030"/><rect x="-9" y="2.7" width="3.4" height="2.5" fill="#303030"/><rect x="5.6" y="2.7" width="3.4" height="2.5" fill="#303030"/><rect x="-2.65" y="-10" width="5.3" height="20" fill="#8c8c8c"/><rect x="-2.65" y="-10" width="5.3" height="4" fill="#5c5c5c"/><rect x="-2.65" y="6" width="5.3" height="4" fill="#5c5c5c"/></g>
<g transform="translate(1520.2 1436.0)"><rect x="-9" y="-5.2" width="18" height="10.4" fill="#d2d2d2"/><rect x="-9" y="-2.7" width="18" height="5.4" fill="#a6a6a6"/><rect x="-9" y="-5.2" width="3.4" height="2.5" fill="#303030"/><rect x="5.6" y="-5.2" width="3.4" height="2.5" fill="#303030"/><rect x="-9" y="2.7" width="3.4" height="2.5" fill="#303030"/><rect x="5.6" y="2.7" width="3.4" height="2.5" fill="#303030"/><rect x="-2.65" y="-10" width="5.3" height="20" fill="#8c8c8c"/><rect x="-2.65" y="-10" width="5.3" height="4" fill="#5c5c5c"/><rect x="-2.65" y="6" width="5.3" height="4" fill="#5c5c5c"/></g>
<g transform="translate(1545.7 1436.0)"><rect x="-9" y="-5.2" width="18" height="10.4" fill="#d2d2d2"/><rect x="-9" y="-2.7" width="18" height="5.4" fill="#a6a6a6"/><rect x="-9" y="-5.2" width="3.4" height="2.5" fill="#303030"/><rect x="5.6" y="-5.2" width="3.4" height="2.5" fill="#303030"/><rect x="-9" y="2.7" width="3.4" height="2.5" fill="#303030"/><rect x="5.6" y="2.7" width="3.4" height="2.5" fill="#303030"/><rect x="-2.65" y="-10" width="5.3" height="20" fill="#8c8c8c"/><rect x="-2.65" y="-10" width="5.3" height="4" fill="#5c5c5c"/><rect x="-2.65" y="6" width="5.3" height="4" fill="#5c5c5c"/></g>
<text transform="translate(957.5 1448.1) scale(0.9972 1)" x="0" y="0" font-size="38.4" text-anchor="end" fill="#111" stroke="#111" stroke-width="0.3">Used multimodal learning aids</text>
<rect x="989.20" y="1484.44" width="599.70" height="56.00" fill="#f0f0f0"/>
<path d="M989.20 1484.44H1588.90V1540.44H989.20V1535.74H1584.20V1489.14H989.20Z" fill="#000"/>
<g transform="translate(1505.8 1512.8)"><rect x="-9" y="-5.2" width="18" height="10.4" fill="#d2d2d2"/><rect x="-9" y="-2.7" width="18" height="5.4" fill="#a6a6a6"/><rect x="-9" y="-5.2" width="3.4" height="2.5" fill="#303030"/><rect x="5.6" y="-5.2" width="3.4" height="2.5" fill="#303030"/><rect x="-9" y="2.7" width="3.4" height="2.5" fill="#303030"/><rect x="5.6" y="2.7" width="3.4" height="2.5" fill="#303030"/><rect x="-2.65" y="-10" width="5.3" height="20" fill="#8c8c8c"/><rect x="-2.65" y="-10" width="5.3" height="4" fill="#5c5c5c"/><rect x="-2.65" y="6" width="5.3" height="4" fill="#5c5c5c"/></g>
<g transform="translate(1531.3 1512.8)"><rect x="-9" y="-5.2" width="18" height="10.4" fill="#d2d2d2"/><rect x="-9" y="-2.7" width="18" height="5.4" fill="#a6a6a6"/><rect x="-9" y="-5.2" width="3.4" height="2.5" fill="#303030"/><rect x="5.6" y="-5.2" width="3.4" height="2.5" fill="#303030"/><rect x="-9" y="2.7" width="3.4" height="2.5" fill="#303030"/><rect x="5.6" y="2.7" width="3.4" height="2.5" fill="#303030"/><rect x="-2.65" y="-10" width="5.3" height="20" fill="#8c8c8c"/><rect x="-2.65" y="-10" width="5.3" height="4" fill="#5c5c5c"/><rect x="-2.65" y="6" width="5.3" height="4" fill="#5c5c5c"/></g>
<g transform="translate(1556.8 1512.8)"><rect x="-9" y="-5.2" width="18" height="10.4" fill="#d2d2d2"/><rect x="-9" y="-2.7" width="18" height="5.4" fill="#a6a6a6"/><rect x="-9" y="-5.2" width="3.4" height="2.5" fill="#303030"/><rect x="5.6" y="-5.2" width="3.4" height="2.5" fill="#303030"/><rect x="-9" y="2.7" width="3.4" height="2.5" fill="#303030"/><rect x="5.6" y="2.7" width="3.4" height="2.5" fill="#303030"/><rect x="-2.65" y="-10" width="5.3" height="20" fill="#8c8c8c"/><rect x="-2.65" y="-10" width="5.3" height="4" fill="#5c5c5c"/><rect x="-2.65" y="6" width="5.3" height="4" fill="#5c5c5c"/></g>
<text transform="translate(957.5 1523.8) scale(0.9964 1)" x="0" y="0" font-size="38.4" text-anchor="end" fill="#111" stroke="#111" stroke-width="0.3">Asked to discuss the differential diagnosis</text>
<rect x="989.20" y="1560.12" width="629.70" height="56.00" fill="#f0f0f0"/>
<path d="M989.20 1560.12H1618.90V1616.12H989.20V1611.42H1614.20V1564.82H989.20Z" fill="#000"/>
<g transform="translate(1510.8 1586.8)"><rect x="-9" y="-5.2" width="18" height="10.4" fill="#d2d2d2"/><rect x="-9" y="-2.7" width="18" height="5.4" fill="#a6a6a6"/><rect x="-9" y="-5.2" width="3.4" height="2.5" fill="#303030"/><rect x="5.6" y="-5.2" width="3.4" height="2.5" fill="#303030"/><rect x="-9" y="2.7" width="3.4" height="2.5" fill="#303030"/><rect x="5.6" y="2.7" width="3.4" height="2.5" fill="#303030"/><rect x="-2.65" y="-10" width="5.3" height="20" fill="#8c8c8c"/><rect x="-2.65" y="-10" width="5.3" height="4" fill="#5c5c5c"/><rect x="-2.65" y="6" width="5.3" height="4" fill="#5c5c5c"/></g>
<g transform="translate(1536.3 1586.8)"><rect x="-9" y="-5.2" width="18" height="10.4" fill="#d2d2d2"/><rect x="-9" y="-2.7" width="18" height="5.4" fill="#a6a6a6"/><rect x="-9" y="-5.2" width="3.4" height="2.5" fill="#303030"/><rect x="5.6" y="-5.2" width="3.4" height="2.5" fill="#303030"/><rect x="-9" y="2.7" width="3.4" height="2.5" fill="#303030"/><rect x="5.6" y="2.7" width="3.4" height="2.5" fill="#303030"/><rect x="-2.65" y="-10" width="5.3" height="20" fill="#8c8c8c"/><rect x="-2.65" y="-10" width="5.3" height="4" fill="#5c5c5c"/><rect x="-2.65" y="6" width="5.3" height="4" fill="#5c5c5c"/></g>
<g transform="translate(1561.8 1586.8)"><rect x="-9" y="-5.2" width="18" height="10.4" fill="#d2d2d2"/><rect x="-9" y="-2.7" width="18" height="5.4" fill="#a6a6a6"/><rect x="-9" y="-5.2" width="3.4" height="2.5" fill="#303030"/><rect x="5.6" y="-5.2" width="3.4" height="2.5" fill="#303030"/><rect x="-9" y="2.7" width="3.4" height="2.5" fill="#303030"/><rect x="5.6" y="2.7" width="3.4" height="2.5" fill="#303030"/><rect x="-2.65" y="-10" width="5.3" height="20" fill="#8c8c8c"/><rect x="-2.65" y="-10" width="5.3" height="4" fill="#5c5c5c"/><rect x="-2.65" y="6" width="5.3" height="4" fill="#5c5c5c"/></g>
<g transform="translate(1587.3 1586.8)"><rect x="-9" y="-5.2" width="18" height="10.4" fill="#d2d2d2"/><rect x="-9" y="-2.7" width="18" height="5.4" fill="#a6a6a6"/><rect x="-9" y="-5.2" width="3.4" height="2.5" fill="#303030"/><rect x="5.6" y="-5.2" width="3.4" height="2.5" fill="#303030"/><rect x="-9" y="2.7" width="3.4" height="2.5" fill="#303030"/><rect x="5.6" y="2.7" width="3.4" height="2.5" fill="#303030"/><rect x="-2.65" y="-10" width="5.3" height="20" fill="#8c8c8c"/><rect x="-2.65" y="-10" width="5.3" height="4" fill="#5c5c5c"/><rect x="-2.65" y="6" width="5.3" height="4" fill="#5c5c5c"/></g>
<text transform="translate(957.5 1599.6) scale(0.9955 1)" x="0" y="0" font-size="38.4" text-anchor="end" fill="#111" stroke="#111" stroke-width="0.3">Asked to discuss alternate management</text>
<rect x="989.20" y="1635.80" width="508.40" height="56.00" fill="#f0f0f0"/>
<path d="M989.20 1635.80H1497.60V1691.80H989.20V1687.10H1492.90V1640.50H989.20Z" fill="#000"/>
<g transform="translate(1439.3 1663.6)"><rect x="-9" y="-5.2" width="18" height="10.4" fill="#d2d2d2"/><rect x="-9" y="-2.7" width="18" height="5.4" fill="#a6a6a6"/><rect x="-9" y="-5.2" width="3.4" height="2.5" fill="#303030"/><rect x="5.6" y="-5.2" width="3.4" height="2.5" fill="#303030"/><rect x="-9" y="2.7" width="3.4" height="2.5" fill="#303030"/><rect x="5.6" y="2.7" width="3.4" height="2.5" fill="#303030"/><rect x="-2.65" y="-10" width="5.3" height="20" fill="#8c8c8c"/><rect x="-2.65" y="-10" width="5.3" height="4" fill="#5c5c5c"/><rect x="-2.65" y="6" width="5.3" height="4" fill="#5c5c5c"/></g>
<g transform="translate(1464.8 1663.6)"><rect x="-9" y="-5.2" width="18" height="10.4" fill="#d2d2d2"/><rect x="-9" y="-2.7" width="18" height="5.4" fill="#a6a6a6"/><rect x="-9" y="-5.2" width="3.4" height="2.5" fill="#303030"/><rect x="5.6" y="-5.2" width="3.4" height="2.5" fill="#303030"/><rect x="-9" y="2.7" width="3.4" height="2.5" fill="#303030"/><rect x="5.6" y="2.7" width="3.4" height="2.5" fill="#303030"/><rect x="-2.65" y="-10" width="5.3" height="20" fill="#8c8c8c"/><rect x="-2.65" y="-10" width="5.3" height="4" fill="#5c5c5c"/><rect x="-2.65" y="6" width="5.3" height="4" fill="#5c5c5c"/></g>
<text transform="translate(957.5 1675.3) scale(0.9960 1)" x="0" y="0" font-size="38.4" text-anchor="end" fill="#111" stroke="#111" stroke-width="0.3">Asked for rationale for medical decision</text>
<rect x="989.20" y="1711.48" width="552.40" height="56.00" fill="#f0f0f0"/>
<path d="M989.20 1711.48H1541.60V1767.48H989.20V1762.78H1536.90V1716.18H989.20Z" fill="#000"/>
<g transform="translate(1459.5 1737.8)"><rect x="-9" y="-5.2" width="18" height="10.4" fill="#d2d2d2"/><rect x="-9" y="-2.7" width="18" height="5.4" fill="#a6a6a6"/><rect x="-9" y="-5.2" width="3.4" height="2.5" fill="#303030"/><rect x="5.6" y="-5.2" width="3.4" height="2.5" fill="#303030"/><rect x="-9" y="2.7" width="3.4" height="2.5" fill="#303030"/><rect x="5.6" y="2.7" width="3.4" height="2.5" fill="#303030"/><rect x="-2.65" y="-10" width="5.3" height="20" fill="#8c8c8c"/><rect x="-2.65" y="-10" width="5.3" height="4" fill="#5c5c5c"/><rect x="-2.65" y="6" width="5.3" height="4" fill="#5c5c5c"/></g>
<g transform="translate(1485.0 1737.8)"><rect x="-9" y="-5.2" width="18" height="10.4" fill="#d2d2d2"/><rect x="-9" y="-2.7" width="18" height="5.4" fill="#a6a6a6"/><rect x="-9" y="-5.2" width="3.4" height="2.5" fill="#303030"/><rect x="5.6" y="-5.2" width="3.4" height="2.5" fill="#303030"/><rect x="-9" y="2.7" width="3.4" height="2.5" fill="#303030"/><rect x="5.6" y="2.7" width="3.4" height="2.5" fill="#303030"/><rect x="-2.65" y="-10" width="5.3" height="20" fill="#8c8c8c"/><rect x="-2.65" y="-10" width="5.3" height="4" fill="#5c5c5c"/><rect x="-2.65" y="6" width="5.3" height="4" fill="#5c5c5c"/></g>
<g transform="translate(1510.5 1737.8)"><rect x="-9" y="-5.2" width="18" height="10.4" fill="#d2d2d2"/><rect x="-9" y="-2.7" width="18" height="5.4" fill="#a6a6a6"/><rect x="-9" y="-5.2" width="3.4" height="2.5" fill="#303030"/><rect x="5.6" y="-5.2" width="3.4" height="2.5" fill="#303030"/><rect x="-9" y="2.7" width="3.4" height="2.5" fill="#303030"/><rect x="5.6" y="2.7" width="3.4" height="2.5" fill="#303030"/><rect x="-2.65" y="-10" width="5.3" height="20" fill="#8c8c8c"/><rect x="-2.65" y="-10" width="5.3" height="4" fill="#5c5c5c"/><rect x="-2.65" y="6" width="5.3" height="4" fill="#5c5c5c"/></g>
<text transform="translate(957.5 1751.0) scale(1.0031 1)" x="0" y="0" font-size="38.4" text-anchor="end" fill="#111" stroke="#111" stroke-width="0.3">Gave regular, useful feedback</text>
<rect x="989.20" y="1787.16" width="368.30" height="56.00" fill="#f0f0f0"/>
<path d="M989.20 1787.16H1357.50V1843.16H989.20V1838.46H1352.80V1791.86H989.20Z" fill="#000"/>
<g transform="translate(1322.9 1814.4)"><rect x="-9" y="-5.2" width="18" height="10.4" fill="#d2d2d2"/><rect x="-9" y="-2.7" width="18" height="5.4" fill="#a6a6a6"/><rect x="-9" y="-5.2" width="3.4" height="2.5" fill="#303030"/><rect x="5.6" y="-5.2" width="3.4" height="2.5" fill="#303030"/><rect x="-9" y="2.7" width="3.4" height="2.5" fill="#303030"/><rect x="5.6" y="2.7" width="3.4" height="2.5" fill="#303030"/><rect x="-2.65" y="-10" width="5.3" height="20" fill="#8c8c8c"/><rect x="-2.65" y="-10" width="5.3" height="4" fill="#5c5c5c"/><rect x="-2.65" y="6" width="5.3" height="4" fill="#5c5c5c"/></g>
<text transform="translate(957.5 1826.8) scale(0.9958 1)" x="0" y="0" font-size="38.4" text-anchor="end" fill="#111" stroke="#111" stroke-width="0.3">Explained why they were correct or incorrect</text>
<rect x="989.20" y="1862.84" width="599.70" height="56.00" fill="#f0f0f0"/>
<path d="M989.20 1862.84H1588.90V1918.84H989.20V1914.14H1584.20V1867.54H989.20Z" fill="#000"/>
<g transform="translate(1504.5 1891.2)"><rect x="-9" y="-5.2" width="18" height="10.4" fill="#d2d2d2"/><rect x="-9" y="-2.7" width="18" height="5.4" fill="#a6a6a6"/><rect x="-9" y="-5.2" width="3.4" height="2.5" fill="#303030"/><rect x="5.6" y="-5.2" width="3.4" height="2.5" fill="#303030"/><rect x="-9" y="2.7" width="3.4" height="2.5" fill="#303030"/><rect x="5.6" y="2.7" width="3.4" height="2.5" fill="#303030"/><rect x="-2.65" y="-10" width="5.3" height="20" fill="#8c8c8c"/><rect x="-2.65" y="-10" width="5.3" height="4" fill="#5c5c5c"/><rect x="-2.65" y="6" width="5.3" height="4" fill="#5c5c5c"/></g>
<g transform="translate(1530.0 1891.2)"><rect x="-9" y="-5.2" width="18" height="10.4" fill="#d2d2d2"/><rect x="-9" y="-2.7" width="18" height="5.4" fill="#a6a6a6"/><rect x="-9" y="-5.2" width="3.4" height="2.5" fill="#303030"/><rect x="5.6" y="-5.2" width="3.4" height="2.5" fill="#303030"/><rect x="-9" y="2.7" width="3.4" height="2.5" fill="#303030"/><rect x="5.6" y="2.7" width="3.4" height="2.5" fill="#303030"/><rect x="-2.65" y="-10" width="5.3" height="20" fill="#8c8c8c"/><rect x="-2.65" y="-10" width="5.3" height="4" fill="#5c5c5c"/><rect x="-2.65" y="6" width="5.3" height="4" fill="#5c5c5c"/></g>
<g transform="translate(1555.5 1891.2)"><rect x="-9" y="-5.2" width="18" height="10.4" fill="#d2d2d2"/><rect x="-9" y="-2.7" width="18" height="5.4" fill="#a6a6a6"/><rect x="-9" y="-5.2" width="3.4" height="2.5" fill="#303030"/><rect x="5.6" y="-5.2" width="3.4" height="2.5" fill="#303030"/><rect x="-9" y="2.7" width="3.4" height="2.5" fill="#303030"/><rect x="5.6" y="2.7" width="3.4" height="2.5" fill="#303030"/><rect x="-2.65" y="-10" width="5.3" height="20" fill="#8c8c8c"/><rect x="-2.65" y="-10" width="5.3" height="4" fill="#5c5c5c"/><rect x="-2.65" y="6" width="5.3" height="4" fill="#5c5c5c"/></g>
<text transform="translate(957.5 1902.5) scale(0.9950 1)" x="0" y="0" font-size="38.4" text-anchor="end" fill="#111" stroke="#111" stroke-width="0.3">Encouraged pursuit of literature or other resources</text>
<rect x="989.20" y="1938.52" width="583.00" height="56.00" fill="#f0f0f0"/>
<path d="M989.20 1938.52H1572.20V1994.52H989.20V1989.82H1567.50V1943.22H989.20Z" fill="#000"/>
<g transform="translate(1485.1 1968.0)"><rect x="-9" y="-5.2" width="18" height="10.4" fill="#d2d2d2"/><rect x="-9" y="-2.7" width="18" height="5.4" fill="#a6a6a6"/><rect x="-9" y="-5.2" width="3.4" height="2.5" fill="#303030"/><rect x="5.6" y="-5.2" width="3.4" height="2.5" fill="#303030"/><rect x="-9" y="2.7" width="3.4" height="2.5" fill="#303030"/><rect x="5.6" y="2.7" width="3.4" height="2.5" fill="#303030"/><rect x="-2.65" y="-10" width="5.3" height="20" fill="#8c8c8c"/><rect x="-2.65" y="-10" width="5.3" height="4" fill="#5c5c5c"/><rect x="-2.65" y="6" width="5.3" height="4" fill="#5c5c5c"/></g>
<g transform="translate(1510.6 1968.0)"><rect x="-9" y="-5.2" width="18" height="10.4" fill="#d2d2d2"/><rect x="-9" y="-2.7" width="18" height="5.4" fill="#a6a6a6"/><rect x="-9" y="-5.2" width="3.4" height="2.5" fill="#303030"/><rect x="5.6" y="-5.2" width="3.4" height="2.5" fill="#303030"/><rect x="-9" y="2.7" width="3.4" height="2.5" fill="#303030"/><rect x="5.6" y="2.7" width="3.4" height="2.5" fill="#303030"/><rect x="-2.65" y="-10" width="5.3" height="20" fill="#8c8c8c"/><rect x="-2.65" y="-10" width="5.3" height="4" fill="#5c5c5c"/><rect x="-2.65" y="6" width="5.3" height="4" fill="#5c5c5c"/></g>
<g transform="translate(1536.1 1968.0)"><rect x="-9" y="-5.2" width="18" height="10.4" fill="#d2d2d2"/><rect x="-9" y="-2.7" width="18" height="5.4" fill="#a6a6a6"/><rect x="-9" y="-5.2" width="3.4" height="2.5" fill="#303030"/><rect x="5.6" y="-5.2" width="3.4" height="2.5" fill="#303030"/><rect x="-9" y="2.7" width="3.4" height="2.5" fill="#303030"/><rect x="5.6" y="2.7" width="3.4" height="2.5" fill="#303030"/><rect x="-2.65" y="-10" width="5.3" height="20" fill="#8c8c8c"/><rect x="-2.65" y="-10" width="5.3" height="4" fill="#5c5c5c"/><rect x="-2.65" y="6" width="5.3" height="4" fill="#5c5c5c"/></g>
<text transform="translate(957.5 1978.2) scale(0.9968 1)" x="0" y="0" font-size="38.4" text-anchor="end" fill="#111" stroke="#111" stroke-width="0.3">Reinforced the resident’s self-directed learning</text>
<rect x="989.2" y="109.7" width="2.8" height="1896.7" fill="#000"/>
<rect x="986.5" y="109.7" width="770.1" height="4.4" fill="#000"/>
<rect x="1751.3" y="109.7" width="5.3" height="1896.7" fill="#000"/>
<rect x="989.2" y="2001.5" width="767.4" height="4.9" fill="#000"/>
<rect x="218.05" y="105.55" width="304.7" height="240.2" fill="none" stroke="#000" stroke-width="2.7"/>
<g transform="translate(258.3 140.2)"><rect x="-9" y="-5.2" width="18" height="10.4" fill="#d2d2d2"/><rect x="-9" y="-2.7" width="18" height="5.4" fill="#a6a6a6"/><rect x="-9" y="-5.2" width="3.4" height="2.5" fill="#303030"/><rect x="5.6" y="-5.2" width="3.4" height="2.5" fill="#303030"/><rect x="-9" y="2.7" width="3.4" height="2.5" fill="#303030"/><rect x="5.6" y="2.7" width="3.4" height="2.5" fill="#303030"/><rect x="-2.65" y="-10" width="5.3" height="20" fill="#8c8c8c"/><rect x="-2.65" y="-10" width="5.3" height="4" fill="#5c5c5c"/><rect x="-2.65" y="6" width="5.3" height="4" fill="#5c5c5c"/></g>
<text x="356" y="149.6" font-size="38.4" fill="#111" stroke="#111" stroke-width="0.2">P<tspan fill="#777" stroke="#999" stroke-width="0.2">&lt;</tspan>0.05</text>
<g transform="translate(258.3 198.9)"><rect x="-9" y="-5.2" width="18" height="10.4" fill="#d2d2d2"/><rect x="-9" y="-2.7" width="18" height="5.4" fill="#a6a6a6"/><rect x="-9" y="-5.2" width="3.4" height="2.5" fill="#303030"/><rect x="5.6" y="-5.2" width="3.4" height="2.5" fill="#303030"/><rect x="-9" y="2.7" width="3.4" height="2.5" fill="#303030"/><rect x="5.6" y="2.7" width="3.4" height="2.5" fill="#303030"/><rect x="-2.65" y="-10" width="5.3" height="20" fill="#8c8c8c"/><rect x="-2.65" y="-10" width="5.3" height="4" fill="#5c5c5c"/><rect x="-2.65" y="6" width="5.3" height="4" fill="#5c5c5c"/></g>
<g transform="translate(283.9 198.9)"><rect x="-9" y="-5.2" width="18" height="10.4" fill="#d2d2d2"/><rect x="-9" y="-2.7" width="18" height="5.4" fill="#a6a6a6"/><rect x="-9" y="-5.2" width="3.4" height="2.5" fill="#303030"/><rect x="5.6" y="-5.2" width="3.4" height="2.5" fill="#303030"/><rect x="-9" y="2.7" width="3.4" height="2.5" fill="#303030"/><rect x="5.6" y="2.7" width="3.4" height="2.5" fill="#303030"/><rect x="-2.65" y="-10" width="5.3" height="20" fill="#8c8c8c"/><rect x="-2.65" y="-10" width="5.3" height="4" fill="#5c5c5c"/><rect x="-2.65" y="6" width="5.3" height="4" fill="#5c5c5c"/></g>
<text x="356" y="208.3" font-size="38.4" fill="#111" stroke="#111" stroke-width="0.2">P<tspan fill="#777" stroke="#999" stroke-width="0.2">&lt;</tspan>0.01</text>
<g transform="translate(258.3 254.7)"><rect x="-9" y="-5.2" width="18" height="10.4" fill="#d2d2d2"/><rect x="-9" y="-2.7" width="18" height="5.4" fill="#a6a6a6"/><rect x="-9" y="-5.2" width="3.4" height="2.5" fill="#303030"/><rect x="5.6" y="-5.2" width="3.4" height="2.5" fill="#303030"/><rect x="-9" y="2.7" width="3.4" height="2.5" fill="#303030"/><rect x="5.6" y="2.7" width="3.4" height="2.5" fill="#303030"/><rect x="-2.65" y="-10" width="5.3" height="20" fill="#8c8c8c"/><rect x="-2.65" y="-10" width="5.3" height="4" fill="#5c5c5c"/><rect x="-2.65" y="6" width="5.3" height="4" fill="#5c5c5c"/></g>
<g transform="translate(283.9 254.7)"><rect x="-9" y="-5.2" width="18" height="10.4" fill="#d2d2d2"/><rect x="-9" y="-2.7" width="18" height="5.4" fill="#a6a6a6"/><rect x="-9" y="-5.2" width="3.4" height="2.5" fill="#303030"/><rect x="5.6" y="-5.2" width="3.4" height="2.5" fill="#303030"/><rect x="-9" y="2.7" width="3.4" height="2.5" fill="#303030"/><rect x="5.6" y="2.7" width="3.4" height="2.5" fill="#303030"/><rect x="-2.65" y="-10" width="5.3" height="20" fill="#8c8c8c"/><rect x="-2.65" y="-10" width="5.3" height="4" fill="#5c5c5c"/><rect x="-2.65" y="6" width="5.3" height="4" fill="#5c5c5c"/></g>
<g transform="translate(309.5 254.7)"><rect x="-9" y="-5.2" width="18" height="10.4" fill="#d2d2d2"/><rect x="-9" y="-2.7" width="18" height="5.4" fill="#a6a6a6"/><rect x="-9" y="-5.2" width="3.4" height="2.5" fill="#303030"/><rect x="5.6" y="-5.2" width="3.4" height="2.5" fill="#303030"/><rect x="-9" y="2.7" width="3.4" height="2.5" fill="#303030"/><rect x="5.6" y="2.7" width="3.4" height="2.5" fill="#303030"/><rect x="-2.65" y="-10" width="5.3" height="20" fill="#8c8c8c"/><rect x="-2.65" y="-10" width="5.3" height="4" fill="#5c5c5c"/><rect x="-2.65" y="6" width="5.3" height="4" fill="#5c5c5c"/></g>
<text x="356" y="264.2" font-size="38.4" fill="#111" stroke="#111" stroke-width="0.2">P<tspan fill="#777" stroke="#999" stroke-width="0.2">&lt;</tspan>0.001</text>
<g transform="translate(258.3 311.6)"><rect x="-9" y="-5.2" width="18" height="10.4" fill="#d2d2d2"/><rect x="-9" y="-2.7" width="18" height="5.4" fill="#a6a6a6"/><rect x="-9" y="-5.2" width="3.4" height="2.5" fill="#303030"/><rect x="5.6" y="-5.2" width="3.4" height="2.5" fill="#303030"/><rect x="-9" y="2.7" width="3.4" height="2.5" fill="#303030"/><rect x="5.6" y="2.7" width="3.4" height="2.5" fill="#303030"/><rect x="-2.65" y="-10" width="5.3" height="20" fill="#8c8c8c"/><rect x="-2.65" y="-10" width="5.3" height="4" fill="#5c5c5c"/><rect x="-2.65" y="6" width="5.3" height="4" fill="#5c5c5c"/></g>
<g transform="translate(283.9 311.6)"><rect x="-9" y="-5.2" width="18" height="10.4" fill="#d2d2d2"/><rect x="-9" y="-2.7" width="18" height="5.4" fill="#a6a6a6"/><rect x="-9" y="-5.2" width="3.4" height="2.5" fill="#303030"/><rect x="5.6" y="-5.2" width="3.4" height="2.5" fill="#303030"/><rect x="-9" y="2.7" width="3.4" height="2.5" fill="#303030"/><rect x="5.6" y="2.7" width="3.4" height="2.5" fill="#303030"/><rect x="-2.65" y="-10" width="5.3" height="20" fill="#8c8c8c"/><rect x="-2.65" y="-10" width="5.3" height="4" fill="#5c5c5c"/><rect x="-2.65" y="6" width="5.3" height="4" fill="#5c5c5c"/></g>
<g transform="translate(309.5 311.6)"><rect x="-9" y="-5.2" width="18" height="10.4" fill="#d2d2d2"/><rect x="-9" y="-2.7" width="18" height="5.4" fill="#a6a6a6"/><rect x="-9" y="-5.2" width="3.4" height="2.5" fill="#303030"/><rect x="5.6" y="-5.2" width="3.4" height="2.5" fill="#303030"/><rect x="-9" y="2.7" width="3.4" height="2.5" fill="#303030"/><rect x="5.6" y="2.7" width="3.4" height="2.5" fill="#303030"/><rect x="-2.65" y="-10" width="5.3" height="20" fill="#8c8c8c"/><rect x="-2.65" y="-10" width="5.3" height="4" fill="#5c5c5c"/><rect x="-2.65" y="6" width="5.3" height="4" fill="#5c5c5c"/></g>
<g transform="translate(335.1 311.6)"><rect x="-9" y="-5.2" width="18" height="10.4" fill="#d2d2d2"/><rect x="-9" y="-2.7" width="18" height="5.4" fill="#a6a6a6"/><rect x="-9" y="-5.2" width="3.4" height="2.5" fill="#303030"/><rect x="5.6" y="-5.2" width="3.4" height="2.5" fill="#303030"/><rect x="-9" y="2.7" width="3.4" height="2.5" fill="#303030"/><rect x="5.6" y="2.7" width="3.4" height="2.5" fill="#303030"/><rect x="-2.65" y="-10" width="5.3" height="20" fill="#8c8c8c"/><rect x="-2.65" y="-10" width="5.3" height="4" fill="#5c5c5c"/><rect x="-2.65" y="6" width="5.3" height="4" fill="#5c5c5c"/></g>
<text x="356" y="322.9" font-size="38.4" fill="#111" stroke="#111" stroke-width="0.2">P<tspan fill="#777" stroke="#999" stroke-width="0.2">&lt;</tspan>0.0001</text>
<text x="210" y="2107.4" font-size="32" fill="#000" textLength="1525" lengthAdjust="spacingAndGlyphs">Each bar represents the strength of the correlation between the number of times a behavior was observed by the behavioral</text>
<text x="210" y="2140.8" font-size="32" fill="#000" textLength="1526" lengthAdjust="spacingAndGlyphs">scientist and a different faculty member while a preceptor was supervising residents for a half-day session in the residency’s</text>
<text x="210" y="2173.7" font-size="32" fill="#000" textLength="209" lengthAdjust="spacingAndGlyphs">continuity clinic.</text>
</svg></body></html>
